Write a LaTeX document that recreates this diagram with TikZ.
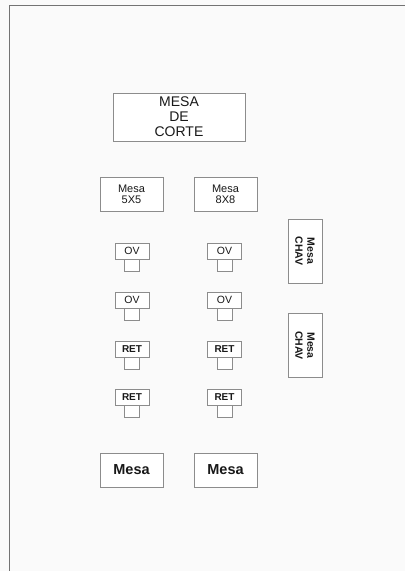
\documentclass[tikz,border=0pt]{standalone}
\usepackage{fontspec}
\setmainfont{Liberation Sans}
\begin{document}
\begin{tikzpicture}[x=1pt,y=-1pt,
  box/.style={draw=black!45, line width=0.8pt, inner sep=0pt, align=center, fill=white, text=black!90},
  big/.style={box, minimum width=132pt, minimum height=48pt, font=\fontsize{14}{15}\selectfont},
  mesa/.style={box, minimum width=63pt, minimum height=34pt, font=\fontsize{11}{11}\selectfont},
  mesabig/.style={box, minimum width=63pt, minimum height=34pt, font=\fontsize{14.5}{15}\selectfont\bfseries},
  chav/.style={box, minimum width=64pt, minimum height=34pt, rotate=-90, font=\fontsize{10.5}{12}\selectfont\bfseries},
  cab/.style={box, minimum width=34pt, minimum height=16pt, font=\fontsize{10.5}{10}\selectfont},
  cabb/.style={cab, font=\fontsize{10}{10}\selectfont\bfseries},
  foot/.style={box, minimum width=15pt, minimum height=12pt, anchor=north}]
\useasboundingbox[fill=white!98!black] (0,0) rectangle (405,571);
\coordinate (fbl) at (9,571);
\coordinate (ftl) at (9,5);
\coordinate (ftr) at (405,5);
\draw[black!55, line width=1pt] (fbl) -- (ftl) -- (ftr);

\node[big] (corte) at (179,117) {MESA\\DE\\CORTE};
\node[mesa] (m55) at (131.5,194) {Mesa\\5X5};
\node[mesa] (m88) at (225.5,194) {Mesa\\8X8};

\node[cab] (ov1a) at (132,251) {OV};
\node[foot] (ov1af) at (ov1a.south) {};
\node[cab] (ov1b) at (224.5,251) {OV};
\node[foot] (ov1bf) at (ov1b.south) {};
\node[cab] (ov2a) at (132,300) {OV};
\node[foot] (ov2af) at (ov2a.south) {};
\node[cab] (ov2b) at (224.5,300) {OV};
\node[foot] (ov2bf) at (ov2b.south) {};
\node[cabb] (ret1a) at (132,349) {RET};
\node[foot] (ret1af) at (ret1a.south) {};
\node[cabb] (ret1b) at (224.5,349) {RET};
\node[foot] (ret1bf) at (ret1b.south) {};
\node[cabb] (ret2a) at (132,397) {RET};
\node[foot] (ret2af) at (ret2a.south) {};
\node[cabb] (ret2b) at (224.5,397) {RET};
\node[foot] (ret2bf) at (ret2b.south) {};

\node[chav] (chav1) at (305,251) {Mesa\\CHAV};
\node[chav] (chav2) at (305,345.5) {Mesa\\CHAV};

\node[mesabig] (mb1) at (131.5,470) {Mesa};
\node[mesabig] (mb2) at (225.5,470) {Mesa};
\end{tikzpicture}
\end{document}
